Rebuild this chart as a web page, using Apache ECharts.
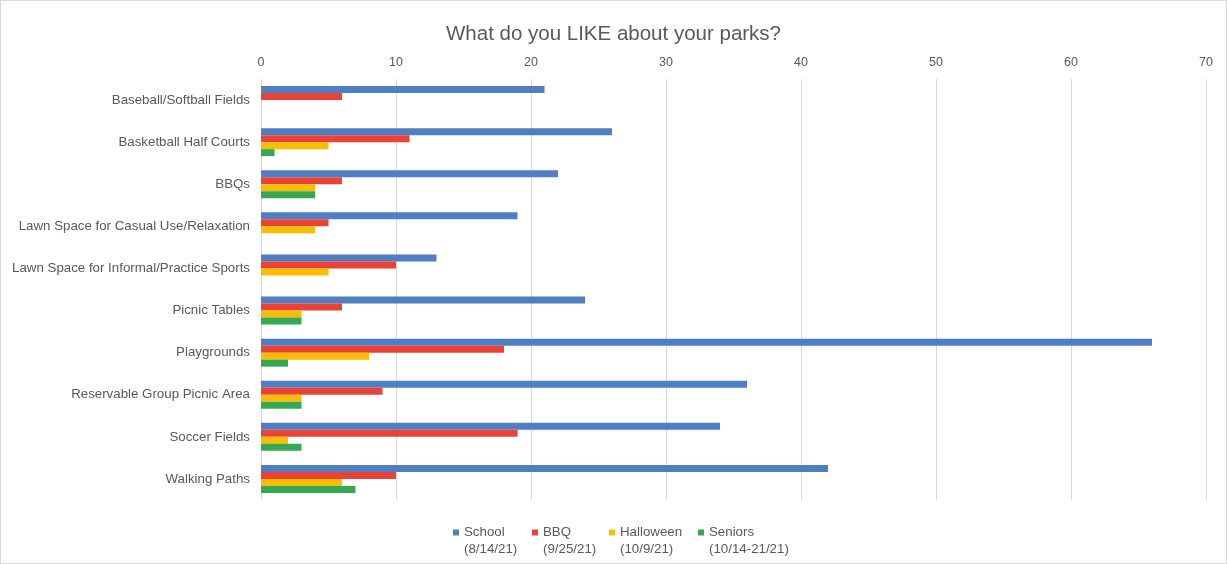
<!DOCTYPE html>
<html><head><meta charset="utf-8">
<script src="https://cdn.jsdelivr.net/npm/echarts@6/dist/echarts.min.js"></script>
<style>html,body{margin:0;padding:0;background:#fff}#c{width:1227px;height:564px;box-sizing:border-box;border:1px solid #d9d9d9}</style>
</head><body><div id="c"></div>
<script>
const categories = ['Baseball/Softball Fields','Basketball Half Courts','BBQs','Lawn Space for Casual Use/Relaxation','Lawn Space for Informal/Practice Sports','Picnic Tables','Playgrounds','Reservable Group Picnic Area','Soccer Fields','Walking Paths'];
const seriesNames = ['School\n(8/14/21)','BBQ\n(9/25/21)','Halloween\n(10/9/21)','Seniors\n(10/14-21/21)'];
const school = [21,26,22,19,13,24,66,36,34,42];
const bbq = [6,11,6,5,10,6,18,9,19,10];
const halloween = [0,5,4,4,5,3,8,3,2,6];
const seniors = [0,1,4,0,0,3,2,3,3,7];
const xTicks = {min:0,max:70,interval:10};
const colors = ['#4f7fc2','#ea4335','#fbbc04','#34a853'];
const values = [school,bbq,halloween,seniors];
const legendLefts = [447,526,603,692];

const chart = echarts.init(document.getElementById('c'));
chart.setOption({
  animation:false,
  title:{text:'What do you LIKE about your parks?',left:'center',top:18,textStyle:{fontFamily:'Liberation Sans',fontSize:20.5,fontWeight:'normal',color:'#595959'}},
  grid:{left:260,right:20,top:78,bottom:63,containLabel:false},
  xAxis:{type:'value',position:'top',min:xTicks.min,max:xTicks.max,interval:xTicks.interval,
    axisLine:{show:false},axisTick:{show:false},
    axisLabel:{margin:10,fontFamily:'Liberation Sans',fontSize:12.5,color:'#595959'},
    splitLine:{lineStyle:{color:'#d9d9d9',width:1}}},
  yAxis:{type:'category',data:categories,inverse:true,
    axisLine:{show:false},axisTick:{show:false},
    axisLabel:{margin:11,fontFamily:'Liberation Sans',fontSize:13.3,color:'#595959'}},
  legend: seriesNames.map((n,i)=>({data:[n],left:legendLefts[i],top:501,itemWidth:6,itemHeight:6,icon:'rect',
    formatter: s => ' \n' + s,
    textStyle:{fontFamily:'Liberation Sans',fontSize:13.3,color:'#595959',lineHeight:17}})),
  series: seriesNames.map((n,i)=>({name:n,type:'bar',data:values[i],barWidth:7,barGap:'0%',
    itemStyle:{color:colors[i]}}))
});
</script></body></html>
